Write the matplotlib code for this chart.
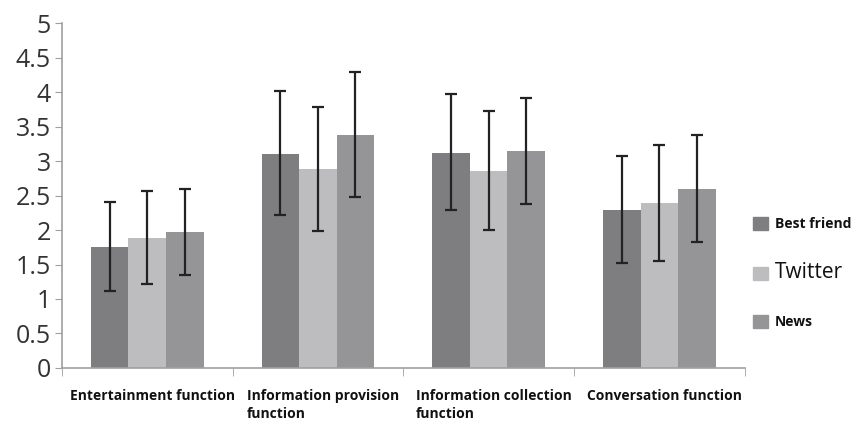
import numpy as np
import matplotlib
matplotlib.use("Agg")
from matplotlib import pyplot as plt
from matplotlib.patches import Patch

plt.rcParams['font.family'] = ['Open Sans', 'DejaVu Sans']

categories = ["Entertainment function", "Information provision\nfunction",
              "Information collection\nfunction", "Conversation function"]
series = ["Best friend", "Twitter", "News"]
best_friend = [1.76, 3.10, 3.12, 2.29]
best_friend_lo = [1.12, 2.22, 2.29, 1.52]
best_friend_hi = [2.40, 4.01, 3.97, 3.07]
twitter = [1.88, 2.89, 2.86, 2.39]
twitter_lo = [1.22, 1.98, 2.00, 1.55]
twitter_hi = [2.56, 3.79, 3.72, 3.24]
news = [1.97, 3.38, 3.15, 2.60]
news_lo = [1.35, 2.48, 2.38, 1.83]
news_hi = [2.60, 4.29, 3.91, 3.38]
colors = ["#7e7e80", "#bdbdc0", "#959597"]

fig = plt.figure(figsize=(8.59, 4.21), dpi=100)
ax = fig.add_axes([0.072, 0.126, 0.795, 0.819])

x = np.arange(len(categories))
w = 0.22
data = [(best_friend, best_friend_lo, best_friend_hi),
        (twitter, twitter_lo, twitter_hi),
        (news, news_lo, news_hi)]
for i, (vals, lo, hi) in enumerate(data):
    vals = np.array(vals)
    err = [vals - np.array(lo), np.array(hi) - vals]
    ax.bar(x + (i - 1) * w, vals, w, color=colors[i], zorder=2)
    ax.errorbar(x + (i - 1) * w, vals, yerr=err, fmt='none', ecolor="#222222",
                elinewidth=1.6, capsize=4.5, capthick=1.6, zorder=3)

ax.set_xlim(-0.5, 3.5)
ax.set_ylim(0, 5)
ax.set_yticks(np.arange(0, 5.01, 0.5))
ax.set_yticklabels(["0", "0.5", "1", "1.5", "2", "2.5", "3", "3.5", "4", "4.5", "5"])
ax.tick_params(axis='y', labelsize=18, length=5, color="#a0a0a0", pad=3, labelcolor="#333333")

ax.set_xticks(x)
ax.set_xticklabels([])
ax.set_xticks(np.arange(-0.5, 4.0, 1.0), minor=True)
ax.tick_params(axis='x', which='major', length=0)
ax.tick_params(axis='x', which='minor', length=6, color="#a0a0a0")
for xi, lab in zip(x, categories):
    ax.text(xi + 0.03, -0.3, lab, ha='center', va='top', multialignment='left',
            fontsize=10, fontweight='bold', color="#111111",
            transform=ax.transData, linespacing=1.4)

for s in ['top', 'right']:
    ax.spines[s].set_visible(False)
for s in ['left', 'bottom']:
    ax.spines[s].set_color("#a0a0a0")
    ax.spines[s].set_linewidth(1.2)

handles = [Patch(color=c) for c in colors]
leg = fig.legend(handles, series, loc='upper left', bbox_to_anchor=(0.862, 0.515),
                 frameon=False, handlelength=1.1, handleheight=1.1,
                 handletextpad=0.5, labelspacing=2.25, fontsize=10)
texts = leg.get_texts()
texts[0].set_fontweight('bold')
texts[1].set_fontsize(15)
texts[2].set_fontweight('bold')
for t in texts:
    t.set_color("#111111")

fig.savefig("out.png", dpi=100)
